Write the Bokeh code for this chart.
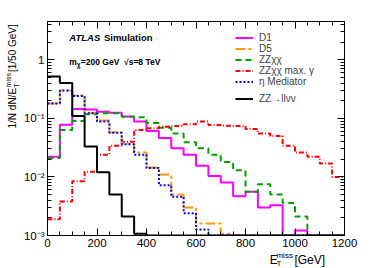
import math
from bokeh.plotting import figure
from bokeh.layouts import row, column
from bokeh.models import (FixedTicker, LinearAxis, LogAxis, Label, Legend, LegendItem,
                          CustomJSTickFormatter, Range1d)
from bokeh.embed import file_html
from bokeh.resources import INLINE

# ---------------- data (50 GeV bins, 0..1200 GeV) ----------------
bin_edges = list(range(0, 1250, 50))
d1 = [0.022, 0.078, 0.145, 0.142, 0.13, 0.125, 0.107, 0.088, 0.061, 0.046, 0.031, 0.024,
      0.0155, 0.0104, 0.008, 0.0047, 0.0056, 0.0030, 0.0033, 0, 0.00122, 0, 0, 0]
d5 = [0.18, 0.30, 0.245, 0.125, 0.092, 0.058, 0.037, 0.026, 0.0145, 0.011, 0.0050, 0.0030,
      0.0016, 0.0016, 0.00107, 0, 0, 0, 0, 0, 0, 0, 0, 0]
zzxx = [0.021, 0.063, 0.09, 0.117, 0.122, 0.122, 0.106, 0.104, 0.083, 0.069, 0.055, 0.039,
        0.031, 0.024, 0.018, 0.013, 0.0056, 0.0075, 0.0050, 0.0036, 0.0021, 0, 0, 0]
zzxx_maxg = [0.0019, 0.0038, 0.0084, 0.0123, 0.024, 0.034, 0.040, 0.063, 0.068, 0.072, 0.074, 0.079,
             0.088, 0.077, 0.075, 0.074, 0.066, 0.055, 0.050, 0.034, 0.026, 0.022, 0.017, 0.010]
eta_med = [0.18, 0.30, 0.24, 0.122, 0.088, 0.057, 0.036, 0.024, 0.0142, 0.0072, 0.0046, 0.0024,
           0.00127, 0, 0, 0, 0, 0, 0, 0, 0, 0, 0, 0]
zz_llvv = [0.52, 0.40, 0.11, 0.033, 0.012, 0.0050, 0.0021, 0.00107, 0, 0, 0, 0,
           0, 0, 0, 0, 0, 0, 0, 0, 0, 0, 0, 0]

x_ticks = [0, 200, 400, 600, 800, 1000, 1200]
y_ticks = [1e-3, 1e-2, 1e-1, 1]

X0, X1 = 0, 1200
Y0, Y1 = 1e-3, 4.5

FONT = "Liberation Sans"

# overall canvas 374 x 268 : [y-title strip | main plot over x-title strip]
TOTAL_W, TOTAL_H = 374, 268
YL_W = 20            # width of strip holding the y-axis title
XL_H = 16            # height of strip holding the x-axis title
W, H = TOTAL_W - YL_W, TOTAL_H - XL_H
FRAME_L, FRAME_R, FRAME_T, FRAME_B = 45, 344, 21, 235   # canvas pixels of the plot frame
BL, BR, BT, BB = FRAME_L - YL_W, YL_W + W - FRAME_R, FRAME_T, H - FRAME_B

p = figure(width=W, height=H, output_backend="svg", toolbar_location=None,
           y_axis_type="log", x_range=Range1d(X0, X1), y_range=Range1d(Y0, Y1),
           min_border_left=BL, min_border_right=BR, min_border_top=BT, min_border_bottom=BB)
p.background_fill_color = "white"
p.border_fill_color = "white"
p.outline_line_color = "black"
p.outline_line_width = 1
p.xgrid.visible = False
p.ygrid.visible = False

xminor = [v for v in range(0, 1201, 50) if v % 200 != 0]
yminor = []
for dec in [1e-3, 1e-2, 1e-1, 1]:
    for m in range(2, 10):
        if m * dec <= Y1:
            yminor.append(m * dec)

yfmt = CustomJSTickFormatter(code="""
const e = Math.round(Math.log10(tick));
if (e === 0) return "1";
const m = {"-":"\\u207B","0":"\\u2070","1":"\\u00B9","2":"\\u00B2","3":"\\u00B3"};
return "10" + String(e).split("").map(c => m[c]).join("");
""")

def style_axis(ax, labels=True):
    ax.axis_line_color = "black"
    ax.major_tick_in = 7
    ax.major_tick_out = 0
    ax.minor_tick_in = 4
    ax.minor_tick_out = 0
    ax.major_tick_line_color = "black"
    ax.minor_tick_line_color = "black"
    if labels:
        ax.major_label_text_font = FONT
        ax.major_label_text_font_size = "11.5px"
        ax.major_label_text_color = "black"
        ax.major_label_standoff = 3
    else:
        ax.major_label_text_font_size = "0px"
        ax.major_label_standoff = 0

xa = p.xaxis[0]
xa.ticker = FixedTicker(ticks=x_ticks, minor_ticks=xminor)
style_axis(xa)
ya = p.yaxis[0]
ya.ticker = FixedTicker(ticks=y_ticks, minor_ticks=yminor)
ya.formatter = yfmt
style_axis(ya)

top = LinearAxis(ticker=FixedTicker(ticks=x_ticks, minor_ticks=xminor),
                 formatter=CustomJSTickFormatter(code="return ' ';"))
style_axis(top, labels=False)
p.add_layout(top, "above")
right = LogAxis(ticker=FixedTicker(ticks=y_ticks, minor_ticks=yminor),
                formatter=CustomJSTickFormatter(code="return ' ';"))
style_axis(right, labels=False)
p.add_layout(right, "right")

# ---------------- histograms ----------------
FLOOR = Y0  # empty bins drawn along the lower frame edge
def step(vals, **kw):
    ys = [v if v > 0 else FLOOR for v in vals]
    ys = ys + [ys[-1]]
    return p.step(x=bin_edges, y=ys, mode="after", line_width=2, **kw)

r_d1 = step(d1, line_color="#ff00ff")
r_zz = step(zzxx, line_color="#00a000", line_dash="6 4")
r_red = step(zzxx_maxg, line_color="#ff0000", line_dash="5 2 1 2")
r_d5 = step(d5, line_color="#ff9900", line_dash="10 3 3 3")
r_eta = step(eta_med, line_color="#0000ff", line_dash="2 2")
r_bk = step(zz_llvv, line_color="black")

legend_kw = dict(glyph_width=18, glyph_height=11, label_height=11, spacing=0, padding=0,
                 margin=0, label_standoff=6, border_line_alpha=0, background_fill_alpha=0,
                 label_text_font=FONT, label_text_font_size="10px")
leg1 = Legend(items=[LegendItem(label="D1", renderers=[r_d1]),
                     LegendItem(label="D5", renderers=[r_d5]),
                     LegendItem(label="ZZχχ", renderers=[r_zz]),
                     LegendItem(label="ZZχχ max. γ", renderers=[r_red]),
                     LegendItem(label="η Mediator", renderers=[r_eta])],
              location=(188, 148), **legend_kw)
leg2 = Legend(items=[LegendItem(label="ZZ→llνν", renderers=[r_bk])],
              location=(188, 131), **legend_kw)
p.add_layout(leg1)
p.add_layout(leg2)

# ---------------- helpers for texts ----------------
REG = {' ': 278, '/': 278, '1': 556, '0': 556, '2': 556, '5': 556, '8': 556, 'N': 722, 'd': 556,
       'E': 667, 'T': 611, 'm': 833, 'i': 222, 's': 500, '[': 278, ']': 278, 'G': 778,
       'e': 556, 'V': 667, '=': 584}
BOLD = {' ': 278, 'A': 722, 'T': 611, 'L': 611, 'S': 667, 'i': 278, 'm': 889, 'u': 611, 'l': 278,
        'a': 556, 't': 333, 'o': 611, 'n': 611, '=': 584, '2': 556, '0': 556, '8': 556,
        'G': 778, 'e': 556, 'V': 667, 's': 556, '√': 549, 'χ': 549}
def tw(s, size, bold=False):
    tab = BOLD if bold else REG
    return sum(tab.get(c, 556) for c in s) / 1000.0 * size

def lab_on(fig, px, py, text, size, style="normal", angle=0):
    fig.add_layout(Label(x=px, y=py, text=text, text_font=FONT,
                         text_font_size=f"{size}px", text_font_style=style,
                         text_color="black", text_baseline="middle", text_align="left",
                         angle=angle))

# texts inside the frame: canvas pixel -> data coordinates of the main plot
LS = math.log10(Y1) - math.log10(Y0)
def gx(px):
    return X0 + (px - FRAME_L) / (FRAME_R - FRAME_L) * (X1 - X0)
def gy(py):
    return 10 ** (math.log10(Y0) + (FRAME_B - py) / (FRAME_B - FRAME_T) * LS)
def lab_main(px, py, text, size, style="normal"):
    lab_on(p, gx(px), gy(py), text, size, style)

TX = 67
fs = 9.5
lab_main(TX, 37, "ATLAS", fs, "bold italic")
lab_main(TX + tw("ATLAS ", fs, True) + 0.5, 37, "Simulation", fs, "bold")
fs2 = 8.5
x = TX
lab_main(x, 61, "m", fs2, "bold")
x += tw("m", fs2, True)
lab_main(x, 64, "χ", 6.5, "bold")
x += 4
lab_main(x, 61, "=200 GeV", fs2, "bold")
lab_main(TX + 55, 61, "√s=8 TeV", fs2, "bold")

# ---------------- strips for axis titles (data units == canvas pixels) ----------------
def strip(w, h, xr, yr):
    f = figure(width=w, height=h, output_backend="svg", toolbar_location=None,
               x_range=Range1d(*xr), y_range=Range1d(*yr),
               x_axis_location=None, y_axis_location=None,
               min_border=0, min_border_left=0, min_border_right=0,
               min_border_top=0, min_border_bottom=0)
    f.outline_line_color = None
    f.xgrid.visible = False
    f.ygrid.visible = False
    f.background_fill_color = "white"
    f.border_fill_color = "white"
    return f

# y-title strip: canvas x 0..YL_W, canvas y 0..TOTAL_H (top-down)
ystrip = strip(YL_W, TOTAL_H, (0, YL_W), (TOTAL_H, 0))
fsy = 10
yb = 128
xc = 12
lab_on(ystrip, xc, yb, "1/N dN/E", fsy, angle=math.pi / 2)
yy = yb - tw("1/N dN/E", fsy) - 0.5
lab_on(ystrip, xc + 4, yy, "T", 7, angle=math.pi / 2)
lab_on(ystrip, xc - 4, yy, "miss", 7, angle=math.pi / 2)
yy -= tw("miss", 7) + 1
lab_on(ystrip, xc, yy, " [1/50 GeV]", fsy, angle=math.pi / 2)

# x-title strip: canvas x YL_W..TOTAL_W, canvas y H..TOTAL_H (top-down)
xstrip = strip(W, XL_H, (YL_W, TOTAL_W), (TOTAL_H, H))
fsx = 12
x_end = FRAME_R + 1
x_gev = x_end - tw("[GeV]", fsx)
x_miss = x_gev - 5 - tw("miss", 8)
x_e = x_miss - tw("E", fsx)
lab_on(xstrip, x_e, 259, "E", fsx)
lab_on(xstrip, x_miss, 263, "T", 8)
lab_on(xstrip, x_miss, 255, "miss", 8)
lab_on(xstrip, x_gev, 259, "[GeV]", fsx)

layout = row(ystrip, column(p, xstrip, spacing=0), spacing=0)
open("out.html", "w").write(file_html(layout, INLINE))
